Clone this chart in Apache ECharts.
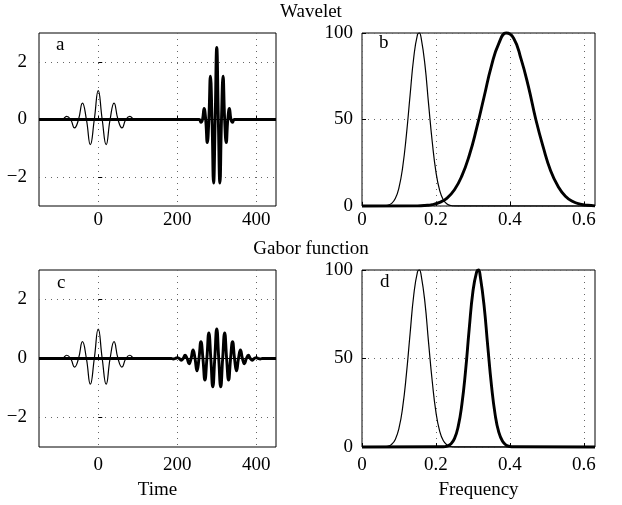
<!DOCTYPE html>
<html>
<head>
<meta charset="utf-8">
<script src="https://cdn.jsdelivr.net/npm/echarts@6/dist/echarts.min.js"></script>
<style>
  html, body { margin: 0; padding: 0; background: #fff; }
  #chart { width: 622px; height: 505px; }
</style>
</head>
<body>
<div id="chart"></div>
<script>
// wavelet at t=0 (thin, same in a and c): extrema and zero crossings
const tThin = [-150,-120,-110,-100,-90,-80,-70,-60,-50,-40,-30,-20,-10,0,10,20,30,40,50,60,70,80,90,100,110,120,450];
const yThin = [0,0,0,-0.03,0,0.11,0,-0.29,0,0.57,0,-0.87,0,1.0,0,-0.87,0,0.57,0,-0.29,0,0.11,0,-0.03,0,0,0];

// compressed wavelet at t=300 (thick, panel a)
const tWave = [-150,250,256,260,264,268,272,276,280,284,288,292,296,300,304,308,312,316,320,324,328,332,336,340,344,350,450];
const yWave = [0,0,0,-0.1,0,0.38,0,-0.8,0,1.5,0,-2.2,0,2.5,0,-2.2,0,1.5,0,-0.8,0,0.38,0,-0.1,0,0,0];

// gabor function at t=300 (thick, panel c)
const tGabor = [-150,180,185,190,195,200,205,210,215,220,225,230,235,240,245,250,255,260,265,270,275,280,285,290,295,300,
  305,310,315,320,325,330,335,340,345,350,355,360,365,370,375,380,385,390,395,400,405,410,415,420,450];
const yGabor = [0,0,0,-0.015,0,0.03,0,-0.06,0,0.11,0,-0.18,0,0.29,0,-0.42,0,0.57,0,-0.73,0,0.87,0,-0.96,0,1.0,
  0,-0.96,0,0.87,0,-0.73,0,0.57,0,-0.42,0,0.29,0,-0.18,0,0.11,0,-0.06,0,0.03,0,-0.015,0,0,0];

// spectra (percent of max)
const fThin = [0,0.06,0.07,0.08,0.09,0.10,0.11,0.12,0.13,0.14,0.15,0.155,0.16,0.17,0.18,0.19,0.20,0.21,0.22,0.23,0.24,0.25,0.63];
const pThin = [0,0.1,0.4,1.5,4.3,10.6,22.5,41,64,86,99,100,97,82,59,37,19.6,9.0,3.5,1.2,0.3,0.05,0];

const fWave = [0,0.15,0.17,0.19,0.21,0.23,0.25,0.27,0.29,0.31,0.33,0.35,0.37,0.39,0.41,0.43,0.45,0.47,0.49,0.51,0.53,0.55,0.57,0.59,0.61,0.63];
const pWave = [0,0.1,0.3,0.8,2.1,4.6,9.4,17.4,29.2,45,63,81,94,100,97,85,69,50,34,20.4,11.4,5.7,2.6,1.1,0.4,0.1];

const fGabor = [0,0.22,0.23,0.24,0.25,0.26,0.27,0.28,0.29,0.30,0.31,0.315,0.32,0.33,0.34,0.35,0.36,0.37,0.38,0.39,0.40,0.41,0.63];
const pGabor = [0,0.1,0.5,1.7,4.7,11.5,24,43,67,88,99,100,96,80,57,35,18.3,8.2,3.2,1.0,0.3,0.1,0];

const timeTicks = [0, 200, 400];
const ampTicks = [-2, 0, 2];
const freqTicks = [0, 0.2, 0.4, 0.6];
const powTicks = [0, 50, 100];

const serif = 'Liberation Serif';
const fs = 19;

function zip(xs, ys) {
  return xs.map((x, i) => [x, ys[i]]);
}

function axis(gi, min, max, ticks, margin, name) {
  return {
    type: 'value',
    gridIndex: gi,
    min: min,
    max: max,
    name: name || '',
    nameLocation: 'middle',
    nameGap: 34,
    nameTextStyle: {color: '#000', fontFamily: serif, fontSize: fs},
    axisLine: {show: false},
    axisTick: {show: true, inside: true, length: 4, customValues: ticks, lineStyle: {color: '#000'}},
    axisLabel: {
      customValues: ticks,
      color: '#000',
      fontFamily: serif,
      fontSize: fs,
      margin: margin,
      formatter: v => String(v).replace('-', '\u2212')
    },
    splitLine: {show: true, lineStyle: {color: '#666', type: [1, 5], width: 1}}
  };
}

function line(gi, data, thick) {
  return {
    type: 'line',
    xAxisIndex: gi,
    yAxisIndex: gi,
    data: data,
    smooth: 0.5,
    showSymbol: false,
    clip: false,
    lineStyle: {color: '#000', width: thick ? 2.9 : 1.2},
    z: thick ? 3 : 2
  };
}

const grids = [
  {left: 39, top: 33, width: 237, height: 173},
  {left: 362, top: 33, width: 233, height: 173},
  {left: 39, top: 270, width: 237, height: 177},
  {left: 362, top: 270, width: 233, height: 177}
].map(g => Object.assign(g, {show: true, borderColor: '#000', borderWidth: 1, backgroundColor: '#fff'}));

function label(text, x, y) {
  return {text: text, left: x, top: y, padding: 0,
    textStyle: {fontFamily: serif, fontSize: fs, fontWeight: 'normal', color: '#000'}};
}

const chart = echarts.init(document.getElementById('chart'), null, {renderer: 'canvas'});
chart.setOption({
  animation: false,
  backgroundColor: '#fff',
  title: [
    label('Wavelet', 'center', 3),
    label('Gabor function', 'center', 240),
    label('a', 56, 36),
    label('b', 379, 34),
    label('c', 57, 274),
    label('d', 380, 273)
  ],
  grid: grids,
  xAxis: [
    axis(0, -150, 450, timeTicks, 5),
    axis(1, 0, 0.63, freqTicks, 5),
    axis(2, -150, 450, timeTicks, 9, 'Time'),
    axis(3, 0, 0.63, freqTicks, 9, 'Frequency')
  ],
  yAxis: [
    axis(0, -3, 3, ampTicks, 12),
    axis(1, 0, 100, powTicks, 9),
    axis(2, -3, 3, ampTicks, 12),
    axis(3, 0, 100, powTicks, 9)
  ],
  series: [
    line(0, zip(tThin, yThin), false),
    line(0, zip(tWave, yWave), true),
    line(1, zip(fThin, pThin), false),
    line(1, zip(fWave, pWave), true),
    line(2, zip(tThin, yThin), false),
    line(2, zip(tGabor, yGabor), true),
    line(3, zip(fThin, pThin), false),
    line(3, zip(fGabor, pGabor), true)
  ]
});
</script>
</body>
</html>
